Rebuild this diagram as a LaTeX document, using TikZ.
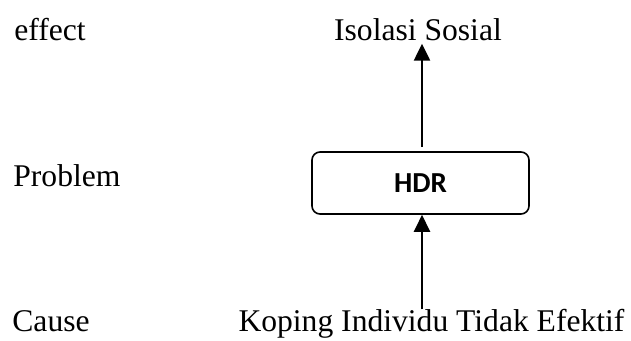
\documentclass[tikz,border=0pt]{standalone}
\usepackage{fontspec}
\setmainfont{Liberation Serif}
\newfontfamily\boxfont{Carlito}
\usetikzlibrary{arrows.meta,positioning,calc}

\tikzset{
  rowlabel/.style={anchor=base west, inner sep=0pt, font=\fontsize{15.8}{18}\selectfont},
  itemlabel/.style={anchor=base, inner sep=0pt, font=\fontsize{15.8}{18}\selectfont},
  probbox/.style={draw, line width=0.8pt, rounded corners=4pt, minimum width=108.5pt, minimum height=31pt, font=\boxfont\bfseries\fontsize{14.5}{16}\selectfont},
  uparrow/.style={line width=1.2pt, -{Triangle[length=8.5pt,width=8pt]}}
}

\begin{document}
\begin{tikzpicture}[x=0.5pt, y=-0.5pt]
  \useasboundingbox (0,0) rectangle (631,341);
  % Row labels
  \node[rowlabel] (effect) at (14,41) {effect};
  \node[rowlabel] (problem) at (13,187) {Problem};
  \node[rowlabel] (cause) at (12,332) {Cause};
  % Diagram
  \node[itemlabel] (iso) at (418,41) {Isolasi Sosial};
  \node[probbox] (hdr) at (420.5,183) {HDR};
  \node[itemlabel] (kop) at (431.5,332) {Koping Individu Tidak Efektif};
  \draw[uparrow] ([xshift=0.75pt,yshift=2pt]hdr.north) -- ([xshift=0.75pt,yshift=-1pt]hdr.north |- iso.south);
  \draw[uparrow] ([xshift=0.75pt]hdr.south |- kop.north) -- ([xshift=0.75pt]hdr.south);
\end{tikzpicture}
\end{document}
